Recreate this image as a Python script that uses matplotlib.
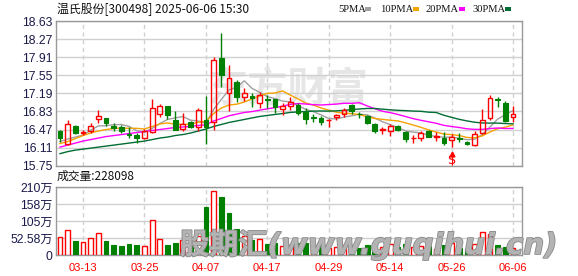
import matplotlib
matplotlib.use('Agg')
import matplotlib.pyplot as plt
import matplotlib.patheffects as pe
from matplotlib.patches import Rectangle
import numpy as np

# ---------------- data ----------------
dates = ['03-10', '03-11', '03-12', '03-13', '03-14', '03-17', '03-18', '03-19', '03-20', '03-21',
         '03-24', '03-25', '03-26', '03-27', '03-28', '03-31', '04-01', '04-02', '04-03', '04-07',
         '04-08', '04-09', '04-10', '04-11', '04-14', '04-15', '04-16', '04-17', '04-18', '04-21',
         '04-22', '04-23', '04-24', '04-25', '04-28', '04-29', '04-30', '05-06', '05-07', '05-08',
         '05-09', '05-12', '05-13', '05-14', '05-15', '05-16', '05-19', '05-20', '05-21', '05-22',
         '05-23', '05-26', '05-27', '05-28', '05-29', '05-30', '06-03', '06-04', '06-05', '06-06']

opens = [16.45, 16.18, 16.55, 16.40, 16.44, 16.67, 16.69, 16.55, 16.52, 16.38,
         16.37, 16.31, 16.43, 16.78, 16.93, 16.65, 16.49, 16.62, 16.52, 16.66,
         16.62, 17.89, 17.19, 17.42, 17.12, 17.14, 16.99, 17.07, 17.07, 16.87,
         16.94, 16.96, 16.82, 16.71, 16.70, 16.65, 16.71, 16.78, 16.95, 16.78,
         16.73, 16.58, 16.47, 16.45, 16.55, 16.42, 16.30, 16.30, 16.44, 16.33,
         16.30, 16.27, 16.31, 16.23, 16.17, 16.41, 16.70, 17.07, 16.99, 16.72]
highs = [16.47, 16.65, 16.57, 16.47, 16.59, 16.85, 16.70, 16.59, 16.57, 16.53,
         16.41, 16.49, 17.07, 16.98, 16.94, 16.84, 16.79, 16.64, 16.89, 17.13,
         17.91, 18.40, 17.75, 17.45, 17.29, 17.19, 17.22, 17.16, 17.07, 17.00,
         17.12, 16.99, 16.90, 16.77, 16.73, 16.67, 16.77, 16.89, 16.97, 16.81,
         16.75, 16.60, 16.53, 16.58, 16.57, 16.44, 16.37, 16.45, 16.47, 16.42,
         16.42, 16.39, 16.40, 16.24, 16.45, 16.88, 17.15, 17.11, 17.04, 16.93]
lows = [16.22, 16.16, 16.39, 16.37, 16.41, 16.59, 16.54, 16.45, 16.40, 16.30,
        16.21, 16.28, 16.40, 16.71, 16.67, 16.47, 16.45, 16.51, 16.45, 16.19,
        16.47, 17.31, 16.83, 17.01, 17.04, 16.92, 16.89, 16.89, 16.79, 16.76,
        16.86, 16.75, 16.58, 16.62, 16.57, 16.52, 16.66, 16.72, 16.78, 16.70,
        16.58, 16.40, 16.39, 16.35, 16.45, 16.22, 16.20, 16.24, 16.32, 16.24,
        16.16, 16.12, 16.22, 16.16, 16.14, 16.39, 16.65, 16.91, 16.62, 16.62]
closes = [16.31, 16.58, 16.41, 16.43, 16.55, 16.74, 16.60, 16.51, 16.45, 16.36,
          16.31, 16.45, 16.89, 16.94, 16.76, 16.47, 16.58, 16.53, 16.86, 16.53,
          17.85, 17.56, 17.49, 17.11, 17.19, 17.10, 17.16, 17.06, 16.92, 16.94,
          17.02, 16.80, 16.67, 16.70, 16.62, 16.66, 16.75, 16.86, 16.83, 16.77,
          16.60, 16.44, 16.48, 16.55, 16.47, 16.28, 16.31, 16.41, 16.32, 16.34,
          16.20, 16.33, 16.29, 16.18, 16.39, 16.66, 17.09, 17.06, 16.64, 16.78]
# volume in 万 lots
volumes = [55, 76, 43, 40, 54, 67, 43, 31, 28, 34,
           31, 27, 107, 48, 31, 37, 45, 35, 58, 150,
           197, 179, 130, 80, 60, 46, 48, 34, 38, 27,
           30, 36, 38, 25, 28, 22, 24, 30, 28, 22,
           30, 38, 25, 33, 26, 35, 25, 28, 27, 20,
           30, 36, 22, 20, 35, 72, 66, 31, 26, 22.81]
first_vol_up = True

# moving-average values before enough closes are available
ma5_head = [16.23, 16.28, 16.32, 16.36]
ma10_head = [16.19, 16.23, 16.29, 16.35, 16.40, 16.44, 16.47, 16.49, 16.50]
ma20_head = [16.12, 16.16, 16.20, 16.24, 16.27, 16.30, 16.33, 16.35, 16.37, 16.39,
             16.41, 16.43, 16.45, 16.47, 16.49, 16.51, 16.52, 16.53, 16.55]
ma30_head = [15.99, 16.03, 16.06, 16.08, 16.10, 16.12, 16.14, 16.16, 16.18, 16.20,
             16.22, 16.24, 16.27, 16.30, 16.32, 16.35, 16.37, 16.40, 16.44, 16.48,
             16.53, 16.57, 16.61, 16.64, 16.67, 16.70, 16.73, 16.75, 16.77]

price_ticks = [15.75, 16.11, 16.47, 16.83, 17.19, 17.55, 17.91, 18.27, 18.63]
vol_ticks = [0, 52.58, 105.16, 157.74, 210.32]
vol_tick_labels = ['0', '52.58万', '105万', '158万', '210万']
date_ticks = ['03-13', '03-25', '04-07', '04-17', '04-29', '05-14', '05-26', '06-06']
signal_date = '05-26'

title = '温氏股份[300498] 2025-06-06 15:30'
vol_title = '成交量:228098'
ma_periods = [5, 10, 20, 30]
ma_names = ['5PMA', '10PMA', '20PMA', '30PMA']

# ---------------- styling ----------------
RED = '#ff0000'
GREEN = '#008000'
MA_COLORS = ['#a0a0a0', '#f5a300', '#ff00ff', '#006d35']
GRID = '#d0d0d0'
FRAME = '#999999'
LABEL = '#1a1a4a'
SANS = ['Liberation Sans', 'Noto Sans CJK SC']
CJK = ['Noto Sans CJK SC', 'DejaVu Sans']

W, H = 578, 276
fig = plt.figure(figsize=(W / 100, H / 100), dpi=100)
fig.patch.set_facecolor('white')

def fx(px):
    return px / W

def fy(py):
    return 1 - py / H

L, R = 56, 522
ax = fig.add_axes([fx(L), fy(165.7), (R - L) / W, (165.7 - 21) / H])
axv = fig.add_axes([fx(L), fy(255), (R - L) / W, (255 - 187) / H])

O = np.array(opens); Hh = np.array(highs); Lo = np.array(lows); C = np.array(closes)
V = np.array(volumes)
x = np.arange(len(dates))
up = C >= O

# moving averages
ma_heads = [ma5_head, ma10_head, ma20_head, ma30_head]
for n, head, col in zip(ma_periods, ma_heads, MA_COLORS):
    ma = np.array(head + [C[i - n + 1:i + 1].mean() for i in range(n - 1, len(C))])
    ax.plot(x, ma, color=col, lw=1.0, zorder=2)

# candles
bw = 0.62
btm = np.minimum(O, C)
top = np.maximum(O, C)
hgt = np.maximum(top - btm, 0.006)
# wicks
ax.vlines(x[~up], Lo[~up], Hh[~up], color=GREEN, lw=1.0, zorder=3)
ax.vlines(x[up], top[up], Hh[up], color=RED, lw=1.0, zorder=3)
ax.vlines(x[up], Lo[up], btm[up], color=RED, lw=1.0, zorder=3)
ax.bar(x[~up], hgt[~up], bottom=btm[~up], width=bw, color=GREEN, edgecolor=GREEN,
       lw=0.8, zorder=4)
ax.bar(x[up], hgt[up], bottom=btm[up], width=bw, facecolor='none', edgecolor=RED,
       lw=1.0, zorder=4)

# signal marker
si = dates.index(signal_date)
ax.plot([si], [15.985], marker='^', color=RED, ms=3.5, zorder=5, clip_on=False)
ax.text(si, 15.86, 'S', color=RED, fontsize=9, ha='center', va='center',
        family='DejaVu Sans', zorder=5)
ax.vlines([si], 15.77, 15.97, color=RED, lw=0.8, zorder=5)

ax.set_ylim(price_ticks[0], price_ticks[-1])
ax.set_xlim(-0.52, 60.17)
ax.set_yticks(price_ticks)
ax.set_yticklabels([f'{t:.2f}' for t in price_ticks])

# volume bars
vol_up = np.array([first_vol_up] + [C[i] >= C[i - 1] for i in range(1, len(C))])
axv.bar(x[~vol_up], V[~vol_up], width=bw, color=GREEN, edgecolor=GREEN, lw=0.8, zorder=3)
axv.bar(x[vol_up], V[vol_up], width=bw, facecolor='white', edgecolor=RED, lw=1.0, zorder=3)
axv.set_ylim(vol_ticks[0], vol_ticks[-1])
axv.set_xlim(-0.52, 60.17)
axv.set_yticks(vol_ticks)
axv.set_yticklabels(vol_tick_labels)
dpos = [dates.index(d) for d in date_ticks]
axv.set_xticks(dpos)
axv.set_xticklabels(date_ticks)

for a in (ax, axv):
    for s in a.spines.values():
        s.set_color(FRAME)
        s.set_linewidth(1.0)
    a.tick_params(axis='both', length=0)
    a.tick_params(axis='y', pad=2.5, labelcolor=LABEL, labelsize=8.7)
    for lab in a.get_yticklabels():
        lab.set_family(SANS)
    for p in a.get_yticks():
        a.axhline(p, color=GRID, lw=1.0, zorder=1)
    for d in dpos:
        a.axvline(d, color=GRID, lw=1.0, ls=(0, (3, 2.5)), zorder=1)

ax.set_xticks([])
axv.tick_params(axis='x', pad=6, labelcolor=RED, labelsize=8)
for lab in axv.get_xticklabels():
    lab.set_family(SANS)

# watermark in price panel
ax.text(0.498, 0.523, '东方财富', transform=ax.transAxes, fontsize=29, fontweight='bold',
        color='#e6e6e6', ha='center', va='center', family=CJK, zorder=0.5)

# title and volume label
fig.text(fx(57), fy(9.5), title, fontsize=8.6, family=CJK, color='#111111',
         ha='left', va='center')
fig.text(fx(57), fy(176.5), vol_title, fontsize=8.5, family=CJK, color='#111111',
         ha='left', va='center')

# legend
leg_x = [338, 380, 426, 472]
sw_x = [365, 413, 459, 505]
for name, col, tx, sx in zip(ma_names, MA_COLORS, leg_x, sw_x):
    fig.text(fx(tx), fy(9), name, fontsize=7.6, family='Liberation Serif', color='#111111',
             ha='left', va='center')
    fig.patches.append(Rectangle((fx(sx), fy(10.8)), 6 / W, 3.6 / H, transform=fig.transFigure,
                                 facecolor=col, edgecolor='none'))

# bottom watermark
fig.text(fx(180), fy(254), '股期汇(www.guqihui.cn)', fontsize=21, fontweight='bold',
         fontstyle='italic', family=['DejaVu Sans', 'Noto Sans CJK SC'], color='#b3b3b3',
         ha='left', va='baseline', zorder=10,
         path_effects=[pe.Stroke(linewidth=1.2, foreground='#8a8a8a'), pe.Normal()])

fig.savefig('out.png', dpi=100)
